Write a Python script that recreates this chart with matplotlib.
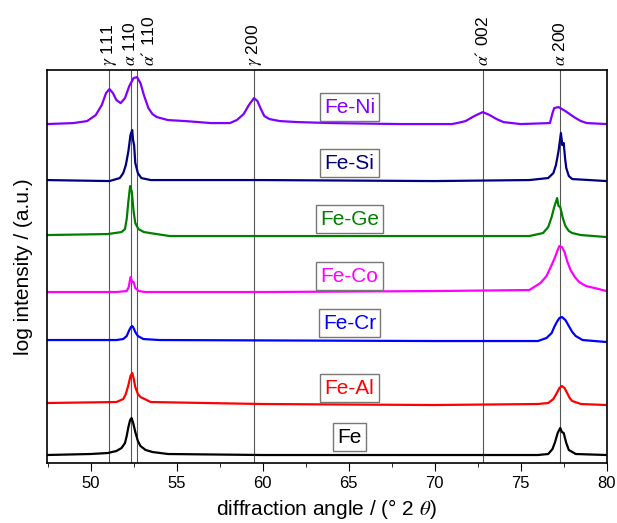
import numpy as np
import matplotlib
matplotlib.use("Agg")
import matplotlib.pyplot as plt
from matplotlib.ticker import MultipleLocator

plt.rcParams['font.family'] = ['Liberation Sans', 'DejaVu Sans']
plt.rcParams['mathtext.fontset'] = 'stix'

# Reflection positions (degrees 2 theta) and their labels
ref_pos = [51.1, 52.35, 52.7, 59.5, 72.8, 77.3]
ref_label_x = [51.1, 52.3, 53.35, 59.5, 72.8, 77.3]
ref_labels = [r"$\gamma$ 111", r"$\alpha$ 110", r"$\alpha$´ 110",
              r"$\gamma$ 200", r"$\alpha$´ 002", r"$\alpha$ 200"]

# Samples (top to bottom), colours, label positions
samples = ["Fe-Ni", "Fe-Si", "Fe-Ge", "Fe-Co", "Fe-Cr", "Fe-Al", "Fe"]
colors = ["#8000ff", "#000080", "#008000", "#ff00ff", "#0000ff", "#ff0000", "#000000"]
label_y = [356, 300, 244, 187, 140, 75, 26]

# Traces (2 theta, stacked log intensity a.u.)
feni_x = [47.44, 49.0, 49.8, 50.3, 50.65, 50.9, 51.1, 51.3, 51.5, 51.75, 52.0, 52.25,
          52.5, 52.7, 52.9, 53.1, 53.36, 53.6, 53.85, 54.5, 55.5, 57.0, 58.1, 58.5,
          58.9, 59.2, 59.5, 59.7, 59.9, 60.1, 60.4, 61.0, 62.0, 64.0, 68.0, 71.0,
          71.3, 71.8, 72.3, 72.8, 73.2, 73.6, 74.0, 75.0, 76.7, 76.85, 76.95, 77.2,
          77.6, 78.1, 78.5, 78.85, 80.0]
feni_y = [339, 340, 342, 348, 358, 370, 374, 370, 363, 360, 365, 377,
          385, 386, 380, 368, 355, 349, 346, 343, 342, 340, 340, 343,
          349, 358, 365, 362, 354, 347, 344, 342, 341, 340, 339, 339,
          340, 342, 347, 351, 348, 344, 341, 339, 340, 350, 355, 356,
          352, 346, 342, 340, 339]

fesi_x = [47.44, 51.1, 51.7, 51.9, 52.05, 52.2, 52.32, 52.42, 52.47, 52.53, 52.6,
          52.75, 52.95, 53.5, 60.0, 70.0, 75.5, 76.6, 76.9, 77.05, 77.2, 77.34,
          77.42, 77.5, 77.58, 77.65, 77.8, 78.0, 80.0]
fesi_y = [283, 282, 285, 290, 298, 312, 328, 333, 323, 318, 300,
          290, 285, 283, 283, 282, 283, 285, 290, 298, 312, 330,
          318, 320, 305, 295, 287, 284, 282]

fege_x = [47.44, 51.0, 51.8, 52.0, 52.1, 52.2, 52.3, 52.4, 52.5, 52.6, 52.78, 53.1,
          53.46, 54.6, 60.0, 70.0, 75.5, 76.3, 76.6, 76.8, 76.95, 77.12, 77.2, 77.3,
          77.45, 77.6, 77.8, 78.0, 78.5, 80.0]
fege_y = [228, 229, 231, 234, 244, 262, 277, 271, 252, 240, 234, 231,
          230, 227, 227, 227, 227, 230, 236, 246, 256, 265, 257, 256,
          245, 237, 232, 230, 228, 226]

feco_x = [47.44, 51.5, 52.1, 52.22, 52.28, 52.33, 52.42, 52.5, 52.6, 52.8, 53.2, 60.0,
          70.0, 75.5, 76.15, 76.5, 76.8, 77.0, 77.15, 77.25, 77.4, 77.55, 77.7, 77.9,
          78.15, 78.4, 78.8, 79.3, 80.0]
feco_y = [171, 171, 172, 176, 182, 186, 181, 181, 175, 172, 171, 171,
          172, 173, 180, 187, 198, 206, 213, 217, 216, 211, 202, 193,
          186, 181, 177, 175, 172]

fecr_x = [47.44, 51.5, 51.9, 52.1, 52.25, 52.35, 52.42, 52.5, 52.6, 52.75, 53.07,
          54.0, 70.0, 76.0, 76.5, 76.8, 76.95, 77.1, 77.25, 77.4, 77.6, 77.8, 78.0,
          78.2, 78.6, 80.0]
fecr_y = [123, 123, 124, 127, 133, 136, 137, 135, 131, 127, 124,
          123, 122, 122, 125, 130, 136, 141, 145, 146, 143, 137, 131,
          127, 123, 121]

feal_x = [47.44, 51.5, 51.9, 52.05, 52.2, 52.32, 52.42, 52.5, 52.6, 52.75, 52.9,
          53.5, 60.0, 70.0, 76.0, 76.6, 76.9, 77.1, 77.25, 77.4, 77.55, 77.7, 77.85,
          78.0, 78.5, 80.0]
feal_y = [60, 61, 64, 69, 78, 87, 90, 85, 76, 69, 66,
          61, 59, 58, 59, 60, 64, 70, 75, 77, 75, 70, 65,
          62, 59, 58]

fe_x = [47.44, 50.0, 51.0, 51.5, 51.8, 52.0, 52.1, 52.2, 52.3, 52.38, 52.48, 52.6,
        52.75, 52.9, 53.2, 53.6, 54.5, 60.0, 70.0, 76.0, 76.6, 76.85, 77.0, 77.15,
        77.3, 77.4, 77.5, 77.65, 77.8, 78.2, 80.0]
fe_y = [8, 9, 10, 12, 15, 20, 27, 36, 43, 45, 40, 31,
        22, 17, 13, 11, 9, 8, 8, 8, 9, 14, 21, 30,
        35, 31, 30, 20, 13, 9, 8]

traces = [(feni_x, feni_y), (fesi_x, fesi_y), (fege_x, fege_y), (feco_x, feco_y),
          (fecr_x, fecr_y), (feal_x, feal_y), (fe_x, fe_y)]

fig = plt.figure(figsize=(6.17, 5.23), dpi=100)
ax = fig.add_axes([0.0754, 0.1147, 0.9079, 0.7513])

# reference lines
for x in ref_pos:
    ax.axvline(x, color="#555555", lw=0.8, zorder=1)

for (tx, ty), c, name, ly in zip(traces, colors, samples, label_y):
    ax.plot(tx, ty, color=c, lw=1.6, zorder=2)
    ax.text(65.05, ly, name, color=c, fontsize=15, ha="center", va="center",
            bbox=dict(boxstyle="square,pad=0.2", fc="white", ec="#777777", lw=1))

# reflection labels above the frame
trans = ax.get_xaxis_transform()
for x, lab in zip(ref_label_x, ref_labels):
    ax.text(x, 1.01, lab, transform=trans, rotation=90, ha="center", va="bottom",
            fontsize=12.5)

ax.set_xlim(47.44, 80)
ax.set_ylim(0, 393)
ax.xaxis.set_major_locator(MultipleLocator(5))
ax.xaxis.set_minor_locator(MultipleLocator(2.5))
ax.tick_params(axis="x", which="major", direction="out", length=6, labelsize=12)
ax.tick_params(axis="x", which="minor", direction="out", length=3)
ax.set_yticks([])
for s in ax.spines.values():
    s.set_linewidth(1.2)

ax.set_xlabel(r"diffraction angle / (° 2 $\theta$)", fontsize=15)
ax.set_ylabel("log intensity / (a.u.)", fontsize=15, labelpad=10)

fig.savefig("out.png", dpi=100)
